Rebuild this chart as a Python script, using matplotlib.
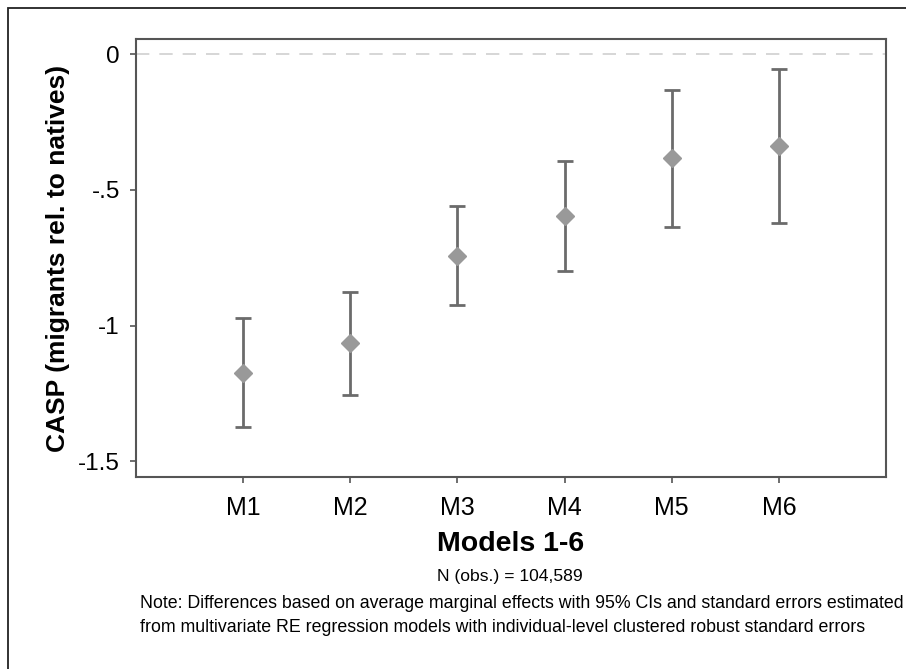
import matplotlib.pyplot as plt
from matplotlib.patches import Rectangle

plt.rcParams["font.family"] = ["Liberation Sans", "DejaVu Sans"]

# values
models = ["M1", "M2", "M3", "M4", "M5", "M6"]
estimate = [-1.174, -1.063, -0.742, -0.595, -0.383, -0.338]
ci_upper = [-0.971, -0.876, -0.559, -0.393, -0.132, -0.055]
ci_lower = [-1.375, -1.256, -0.925, -0.799, -0.638, -0.621]

yticks = [0, -0.5, -1, -1.5]
ytick_labels = ["0", "-.5", "-1", "-1.5"]

fig = plt.figure(figsize=(9.06, 6.69), dpi=100)
ax = fig.add_axes([0.150, 0.287, 0.828, 0.6547])

x = list(range(1, len(models) + 1))
err_low = [e - l for e, l in zip(estimate, ci_lower)]
err_high = [u - e for e, u in zip(estimate, ci_upper)]

# reference line at zero
ax.axhline(0, color="#d0d0d0", lw=1.2, ls=(0, (8, 6)), zorder=1)

ax.errorbar(x, estimate, yerr=[err_low, err_high], fmt="none",
            ecolor="#6b6b6b", elinewidth=2, capsize=6, capthick=2, zorder=2)
ax.plot(x, estimate, "D", color="#999999", markersize=9, zorder=3)

ax.set_xlim(0, 7)
ax.set_ylim(-1.558, 0.056)
ax.set_xticks(x)
ax.set_xticklabels(models, fontsize=18)
ax.set_yticks(yticks)
ax.set_yticklabels(ytick_labels, fontsize=17.5)
ax.tick_params(direction="out", length=4.5, width=1.2, color="#555555", pad=7)
ax.tick_params(axis="x", pad=9)
for s in ax.spines.values():
    s.set_color("#555555")
    s.set_linewidth(1.5)

ax.set_ylabel("CASP (migrants rel. to natives)", fontsize=19, fontweight="bold")
ax.yaxis.set_label_coords(-0.088, 0.5)

fig.text(0.563, 1 - 544 / 669, "Models 1-6", ha="center", va="center",
         fontsize=20.5, fontweight="bold")
fig.text(0.563, 1 - 577 / 669, "N (obs.) = 104,589", ha="center", va="center",
         fontsize=12.6)
fig.text(140 / 906, 1 - 603 / 669,
         "Note: Differences based on average marginal effects with 95% CIs and standard errors estimated",
         ha="left", va="center", fontsize=12.8)
fig.text(140 / 906, 1 - 628 / 669,
         "from multivariate RE regression models with individual-level clustered robust standard errors",
         ha="left", va="center", fontsize=12.8)

# outer frame around the graph region
fig.patches.append(Rectangle((8 / 906, -0.05), 1.0, 1 - 8 / 669 + 0.05,
                             transform=fig.transFigure, fill=False,
                             edgecolor="#222222", lw=1.3))

plt.savefig("out.png", dpi=100)
